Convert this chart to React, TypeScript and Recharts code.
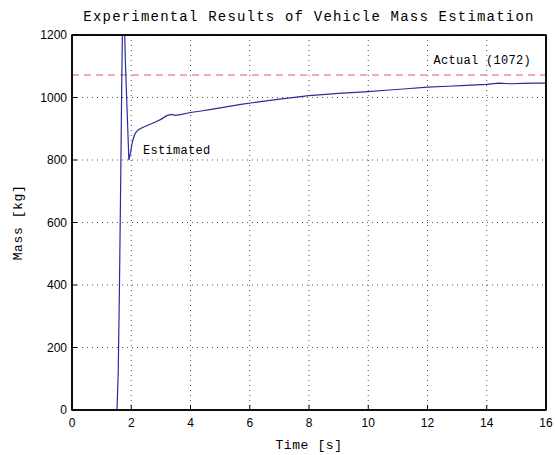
import React from 'react';
import {
  LineChart, Line, XAxis, YAxis, CartesianGrid, ReferenceLine, ReferenceDot, ReferenceArea, Label,
} from 'recharts';

const times = [
  0, 1.5, 1.52, 1.56, 1.6, 1.64, 1.68, 1.72, 1.75, 1.78, 1.8, 1.86, 1.92, 1.97, 2.02, 2.08,
  2.14, 2.24, 2.4, 2.6, 2.8, 3.0, 3.2, 3.35, 3.5, 3.7, 4.0, 4.3, 4.7, 5.2, 5.7, 6.3, 7.0,
  8.0, 9.0, 10.0, 10.7, 11.3, 12.0, 12.7, 13.3, 14.0, 14.4, 14.8, 15.2, 15.6, 16.0,
];
const masses = [
  0, 0, 5, 120, 380, 700, 1050, 1350, 1450, 1200, 1120, 960, 800, 820, 850, 872,
  886, 897, 905, 913, 921, 930, 942, 946, 943, 946, 952, 956, 962, 970, 978, 986, 995,
  1006, 1013, 1019, 1024, 1028, 1033, 1036, 1039, 1042, 1046, 1044, 1045, 1046, 1046,
];
const actualMass = 1072;
const xTicks = [0, 2, 4, 6, 8, 10, 12, 14, 16];
const yTicks = [0, 200, 400, 600, 800, 1000, 1200];
const titleText = 'Experimental Results of Vehicle Mass Estimation';
const xLabel = 'Time [s]';
const yLabel = 'Mass [kg]';
const estimatedLabel = 'Estimated';
const actualLabel = `Actual (${actualMass})`;
const estimatedLabelPos = { t: 2.4, m: 829 };

const data = times.map((t, i) => ({ t, m: masses[i] }));

const MONO = '"Liberation Mono", "DejaVu Sans Mono", monospace';
const SANS = '"Liberation Sans", Arial, sans-serif';
const tickStyle = { fontFamily: SANS, fontSize: 12, fill: '#000' };

const CHART_W = 555;
const MARGIN = { top: 34, right: 8, bottom: 10, left: 10 };
const Y_AXIS_W = 62;

export default function App() {
  return (
    <div style={{ position: 'absolute', left: 0, top: 0, background: '#fff' }}>
      <LineChart width={CHART_W} height={455} data={data} margin={MARGIN}>
        <CartesianGrid
          stroke="#555"
          strokeDasharray="1 4"
          horizontalValues={yTicks}
          verticalValues={xTicks}
        />
        <XAxis
          dataKey="t"
          type="number"
          domain={[0, 16]}
          ticks={xTicks}
          interval={0}
          height={35}
          tick={tickStyle}
          tickSize={-5}
          tickMargin={13}
          axisLine={{ stroke: '#000', strokeWidth: 1.5 }}
          tickLine={{ stroke: '#000' }}
        >
          <Label
            content={(props: any) => {
              const vb = props.viewBox || {};
              return (
                <text
                  x={vb.x + vb.width / 2}
                  y={445}
                  textAnchor="middle"
                  dominantBaseline="central"
                  fontFamily={MONO}
                  fontSize={13}
                  letterSpacing={0.6}
                  fill="#000"
                >
                  {xLabel}
                </text>
              );
            }}
          />
        </XAxis>
        <XAxis
          xAxisId="top"
          orientation="top"
          type="number"
          dataKey="t"
          domain={[0, 16]}
          ticks={xTicks}
          interval={0}
          height={1}
          tick={false}
          tickSize={-5}
          axisLine={{ stroke: '#000', strokeWidth: 1.5 }}
          tickLine={{ stroke: '#000' }}
        />
        <YAxis
          type="number"
          domain={[0, 1200]}
          ticks={yTicks}
          interval={0}
          allowDataOverflow
          width={Y_AXIS_W}
          tick={tickStyle}
          tickSize={-5}
          tickMargin={10}
          axisLine={{ stroke: '#000', strokeWidth: 1.5 }}
          tickLine={{ stroke: '#000' }}
        >
          <Label
            content={(props: any) => {
              const vb = props.viewBox || {};
              const cx = 18;
              const cy = vb.y + vb.height / 2;
              const plotLeft = MARGIN.left + Y_AXIS_W;
              const plotRight = CHART_W - MARGIN.right - 1;
              return (
                <g>
                  <text
                    x={cx}
                    y={cy}
                    textAnchor="middle"
                    dominantBaseline="central"
                    transform={`rotate(-90 ${cx} ${cy})`}
                    fontFamily={MONO}
                    fontSize={13}
                    letterSpacing={0.6}
                    fill="#000"
                  >
                    {yLabel}
                  </text>
                  <text
                    x={(plotLeft + plotRight) / 2}
                    y={17}
                    textAnchor="middle"
                    dominantBaseline="central"
                    fontFamily={MONO}
                    fontSize={14}
                    letterSpacing={1.2}
                    fill="#000"
                  >
                    {titleText}
                  </text>
                </g>
              );
            }}
          />
        </YAxis>
        <YAxis
          yAxisId="right"
          orientation="right"
          type="number"
          domain={[0, 1200]}
          ticks={yTicks}
          interval={0}
          width={1}
          tick={false}
          tickSize={-5}
          axisLine={{ stroke: '#000', strokeWidth: 1.5 }}
          tickLine={{ stroke: '#000' }}
        />
        <ReferenceArea
          x1={0}
          x2={16}
          y1={0}
          y2={1200}
          fill="none"
          fillOpacity={0}
          stroke="#000"
          strokeWidth={1.5}
        />
        <ReferenceLine
          y={actualMass}
          stroke="#e35a5a"
          strokeWidth={1.2}
          strokeDasharray="7 5"
          label={(props: any) => {
            const vb = props.viewBox || {};
            return (
              <text
                x={vb.x + vb.width - 15}
                y={vb.y - 14}
                textAnchor="end"
                dominantBaseline="central"
                fontFamily={MONO}
                fontSize={12}
                letterSpacing={0.3}
                fill="#000"
              >
                {actualLabel}
              </text>
            );
          }}
        />
        <Line
          type="linear"
          dataKey="m"
          stroke="#2b2b9b"
          strokeWidth={1.2}
          dot={false}
          isAnimationActive={false}
        />
        <ReferenceDot
          x={estimatedLabelPos.t}
          y={estimatedLabelPos.m}
          r={0}
          fill="none"
          stroke="none"
          label={(props: any) => {
            const vb = props.viewBox || {};
            const x = vb.x != null ? vb.x + (vb.width || 0) / 2 : 0;
            const y = vb.y != null ? vb.y + (vb.height || 0) / 2 : 0;
            return (
              <text
                x={x}
                y={y}
                textAnchor="start"
                dominantBaseline="central"
                fontFamily={MONO}
                fontSize={12}
                letterSpacing={0.3}
                fill="#000"
              >
                {estimatedLabel}
              </text>
            );
          }}
        />
      </LineChart>
    </div>
  );
}
